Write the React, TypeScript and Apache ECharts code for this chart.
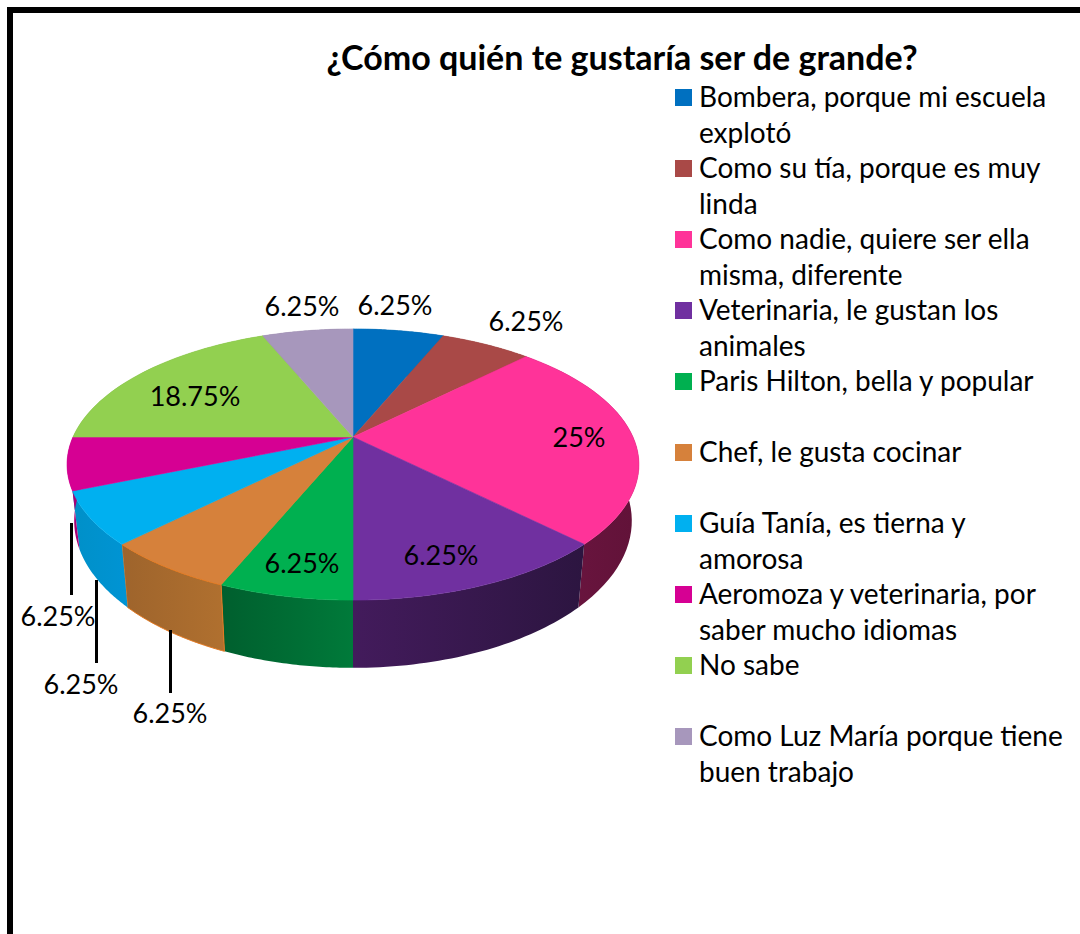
import React, { useEffect, useRef } from "react";
import * as echarts from "echarts";

const titleText = "¿Cómo quién te gustaría ser de grande?";
const categories = [
  "Bombera, porque mi escuela\nexplotó",
  "Como su tía, porque es muy\nlinda",
  "Como nadie, quiere ser ella\nmisma, diferente",
  "Veterinaria, le gustan los\nanimales",
  "Paris Hilton, bella y popular",
  "Chef, le gusta cocinar",
  "Guía Tanía, es tierna y\namorosa",
  "Aeromoza y veterinaria, por\nsaber mucho idiomas",
  "No sabe",
  "Como Luz María porque tiene\nbuen trabajo",
];
// Slice sizes as drawn (the purple slice is drawn twice as wide as its printed label says)
const sliceValues = [6.25, 6.25, 25, 12.5, 6.25, 6.25, 6.25, 6.25, 18.75, 6.25];
const printedLabels = ["6.25%", "6.25%", "25%", "6.25%", "6.25%", "6.25%", "6.25%", "6.25%", "18.75%", "6.25%"];

// Styles and layout
const topColors = ["#0070c0", "#a94947", "#ff3399", "#7030a0", "#00b050", "#d6813b", "#00b0f0", "#d60093", "#92d050", "#a797bc"];
const edgeColors = ["#0070c0", "#a94947", "#ff3399", "#7030a0", "#00b050", "#e3781f", "#00b0f0", "#d60093", "#92d050", "#a797bc"];
const wallStart = ["#00508a", "#7a3433", "#6f1643", "#431b5c", "#007a3a", "#b0702f", "#0094d4", "#a80074", "#6a9a3a", "#7a6d8a"];
const wallEnd = ["#00508a", "#7a3433", "#611238", "#2c1540", "#005f2e", "#9e642c", "#0090c8", "#a80074", "#6a9a3a", "#7a6d8a"];
const labelAt = [[395, 304], [526, 320], [579, 436], [441, 554], [302, 562], [170, 712], [81, 683], [58, 615], [195, 395], [302, 305]];
const leaders: Record<number, number[]> = { 5: [170.5, 630, 693], 6: [96.5, 580, 663], 7: [71.5, 523, 595] };
const legendFirstLine = [98, 169, 240, 311, 382, 453, 524, 595, 666, 737];

const FONT = "Lato, 'Open Sans', sans-serif";
const cx = 353, cy = 437;      // where the slices meet
const PA = 130, PC = -0.203, PD = 280;  // perspective of the disc
const DEPTH = 54, BOTTOM_SCALE = 0.975;

function project(theta: number) {
  const u = Math.sin(theta), v = -Math.cos(theta);
  const w = 1 + PC * v;
  return { x: cx + (PD * u) / w, y: cy + (PA * v) / w, w };
}

function renderSlice(params: any, api: any) {
  const i = params.dataIndex;
  const value = api.value(0);
  const total = sliceValues.reduce((s, n) => s + n, 0);
  const before = sliceValues.slice(0, i).reduce((s, n) => s + n, 0);
  const a0 = (before / total) * Math.PI * 2;
  const a1 = ((before + value) / total) * Math.PI * 2;
  const steps = 40;
  const rim: { x: number; y: number; w: number }[] = [];
  for (let k = 0; k <= steps; k++) rim.push(project(a0 + ((a1 - a0) * k) / steps));
  const lower = rim.map((p) => [cx + (p.x - cx) * BOTTOM_SCALE, p.y + DEPTH / p.w]);
  const xs = rim.map((p) => p.x);
  const children: any[] = [
    {
      type: "polygon",
      z2: 1,
      shape: { points: [...rim.map((p) => [p.x, p.y]), ...lower.reverse()] },
      style: {
        fill: new echarts.graphic.LinearGradient(0, 0, 1, 0, [
          { offset: 0, color: Math.min(...xs) < cx ? wallEnd[i] : wallStart[i] },
          { offset: 1, color: Math.min(...xs) < cx ? wallStart[i] : wallEnd[i] },
        ]),
        stroke: i === 5 ? edgeColors[i] : undefined,
        lineWidth: i === 5 ? 1 : 0,
      },
    },
    {
      type: "polygon",
      z2: 2,
      shape: { points: [[cx, cy], ...rim.map((p) => [p.x, p.y])] },
      style: { fill: topColors[i], stroke: edgeColors[i], lineWidth: 0.6 },
    },
    {
      type: "text",
      z2: 4,
      style: {
        text: printedLabels[i],
        x: labelAt[i][0],
        y: labelAt[i][1],
        align: "center",
        verticalAlign: "middle",
        fill: "#000",
        font: `27px ${FONT}`,
      },
    },
  ];
  const l = leaders[i];
  if (l) {
    children.push({
      type: "line",
      z2: 3,
      shape: { x1: l[0], y1: l[1], x2: l[0], y2: l[2] },
      style: { stroke: "#000", lineWidth: 3 },
    });
  }
  return { type: "group", children };
}

export default function App() {
  const ref = useRef<HTMLDivElement>(null);
  useEffect(() => {
    const chart = echarts.init(ref.current!, null, { renderer: "svg" });
    const legendGraphics: any[] = [];
    categories.forEach((name, i) => {
      legendGraphics.push({
        type: "rect",
        shape: { x: 675, y: legendFirstLine[i] - 9, width: 17, height: 17 },
        style: { fill: topColors[i] },
      });
      legendGraphics.push({
        type: "text",
        style: {
          text: name,
          x: 699,
          y: legendFirstLine[i] - 20,
          align: "left",
          verticalAlign: "top",
          fill: "#000",
          font: `28px ${FONT}`,
          lineHeight: 36,
        },
      });
    });
    chart.setOption({
      animation: false,
      backgroundColor: "#fff",
      title: {
        text: titleText,
        left: 617,
        top: 34,
        textAlign: "center",
        textStyle: { fontFamily: FONT, fontWeight: "bold", fontSize: 34, color: "#000" },
      },
      graphic: [
        {
          type: "rect",
          shape: { x: 10, y: 10, width: 1300, height: 1300 },
          style: { fill: "none", stroke: "#000", lineWidth: 6 },
        },
        ...legendGraphics,
      ],
      series: [
        {
          type: "custom",
          coordinateSystem: "none",
          renderItem: renderSlice,
          silent: true,
          data: sliceValues.map((v, i) => ({ name: categories[i], value: [v] })),
        },
      ],
    });
    return () => chart.dispose();
  }, []);
  return <div ref={ref} style={{ position: "absolute", left: 0, top: 0, width: 1080, height: 934 }} />;
}
